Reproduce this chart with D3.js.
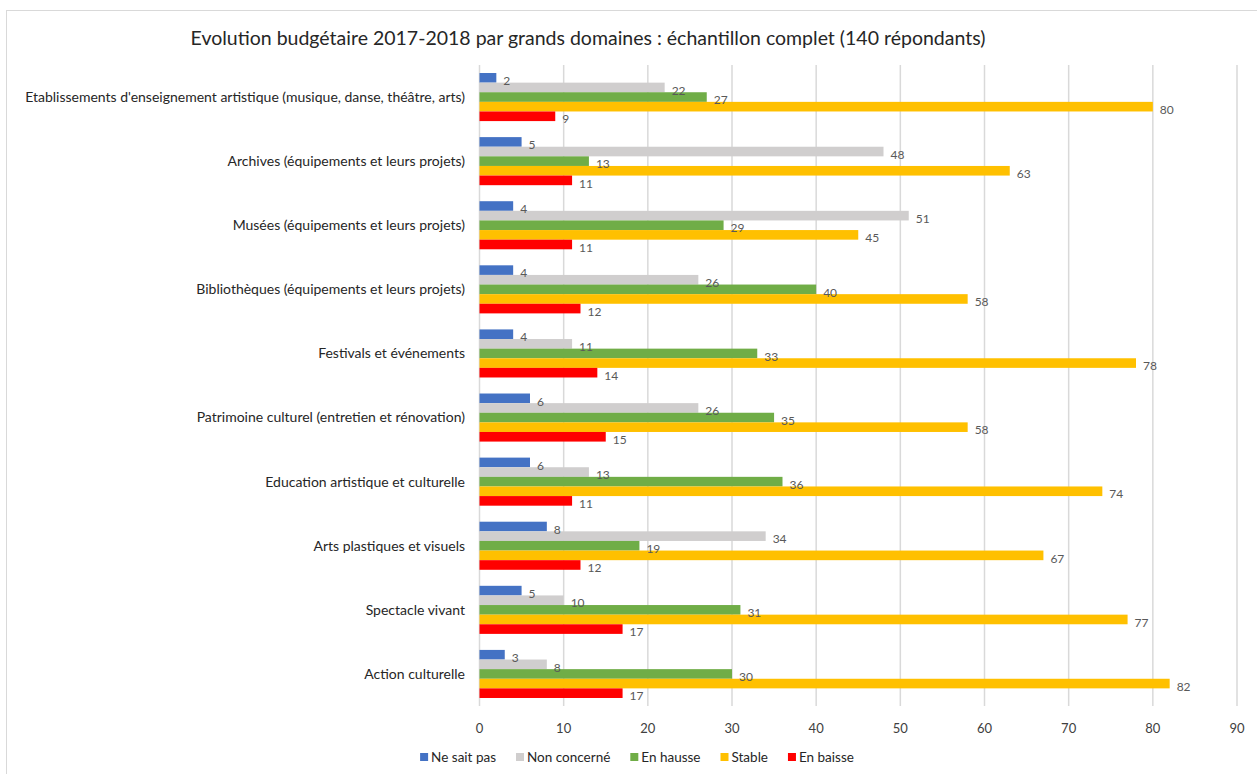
<!DOCTYPE html>
<html>
<head>
<meta charset="utf-8">
<script src="https://cdn.jsdelivr.net/npm/d3@7"></script>
<style>
  body { margin: 0; background: #fff; }
  svg { display: block; font-family: Lato, "Open Sans", sans-serif; }
</style>
</head>
<body>
<script>
const categories = [
  "Etablissements d'enseignement artistique (musique, danse, théâtre, arts)",
  "Archives (équipements et leurs projets)",
  "Musées (équipements et leurs projets)",
  "Bibliothèques (équipements et leurs projets)",
  "Festivals et événements",
  "Patrimoine culturel (entretien et rénovation)",
  "Education artistique et culturelle",
  "Arts plastiques et visuels",
  "Spectacle vivant",
  "Action culturelle"
];
const seriesNames = ["Ne sait pas", "Non concerné", "En hausse", "Stable", "En baisse"];
const seriesColors = ["#4472C4", "#D0CECE", "#70AD47", "#FFC000", "#FF0000"];
const neSaitPas   = [2, 5, 4, 4, 4, 6, 6, 8, 5, 3];
const nonConcerne = [22, 48, 51, 26, 11, 26, 13, 34, 10, 8];
const enHausse    = [27, 13, 29, 40, 33, 35, 36, 19, 31, 30];
const stable      = [80, 63, 45, 58, 78, 58, 74, 67, 77, 82];
const enBaisse    = [9, 11, 11, 12, 14, 15, 11, 12, 17, 17];
const xTicks = [0, 10, 20, 30, 40, 50, 60, 70, 80, 90];
const title = "Evolution budgétaire 2017-2018 par grands domaines : échantillon complet (140 répondants)";

const seriesValues = [neSaitPas, nonConcerne, enHausse, stable, enBaisse];
const data = categories.map((c, i) => ({
  name: c,
  values: seriesNames.map((s, j) => ({ key: s, value: seriesValues[j][i], color: seriesColors[j] }))
}));

const width = 1257, height = 774;

const svg = d3.select("body").append("svg")
  .attr("width", width)
  .attr("height", height);

// outer frame
svg.append("rect")
  .attr("x", 6.5).attr("y", 10.5)
  .attr("width", width + 10).attr("height", height + 10)
  .attr("fill", "none")
  .attr("stroke", "#D9D9D9");

svg.append("text")
  .attr("x", 588).attr("y", 45)
  .attr("text-anchor", "middle")
  .attr("font-size", 19.5)
  .attr("fill", "#262626")
  .text(title);

const x = d3.scaleLinear().domain([0, 90]).range([479.5, 1237]);
const y = d3.scaleBand().domain(categories).range([65, 706]).paddingInner(0.25).paddingOuter(0.125);
const ySub = d3.scaleBand().domain(seriesNames).range([0, y.bandwidth()]);

// gridlines
svg.append("g")
  .selectAll("line")
  .data(xTicks)
  .join("line")
  .attr("x1", d => x(d)).attr("x2", d => x(d))
  .attr("y1", 65).attr("y2", 706)
  .attr("stroke", "#D9D9D9")
  .attr("stroke-width", 1.5);

// tick labels
svg.append("g")
  .selectAll("text")
  .data(xTicks)
  .join("text")
  .attr("x", d => x(d))
  .attr("y", 733)
  .attr("text-anchor", "middle")
  .attr("font-size", 13)
  .attr("fill", "#404040")
  .text(d => d);

// category labels
svg.append("g")
  .selectAll("text")
  .data(categories)
  .join("text")
  .attr("x", 465)
  .attr("y", d => y(d) + y.bandwidth() / 2)
  .attr("dy", "0.35em")
  .attr("font-size", 14)
  .attr("text-anchor", "end")
  .attr("fill", "#262626")
  .text(d => d);

const groups = svg.append("g")
  .selectAll("g")
  .data(data)
  .join("g")
  .attr("transform", d => `translate(0,${y(d.name)})`);

groups.selectAll("rect")
  .data(d => d.values)
  .join("rect")
  .attr("x", x(0))
  .attr("y", d => ySub(d.key))
  .attr("width", d => x(d.value) - x(0))
  .attr("height", ySub.bandwidth())
  .attr("fill", d => d.color);

groups.selectAll("text")
  .data(d => d.values)
  .join("text")
  .attr("x", d => x(d.value) + 7)
  .attr("y", d => ySub(d.key) + ySub.bandwidth() / 2 + 3)
  .attr("dy", "0.35em")
  .attr("font-size", 12)
  .attr("fill", "#595959")
  .text(d => d.value);

// legend
const legend = svg.append("g").attr("transform", "translate(0,757)");
const items = legend.selectAll("g")
  .data(seriesNames)
  .join("g");
items.append("rect")
  .attr("x", 0).attr("y", -4)
  .attr("width", 8).attr("height", 8)
  .attr("fill", (d, i) => seriesColors[i]);
items.append("text")
  .attr("x", 11)
  .attr("dy", "0.35em")
  .attr("font-size", 13.5)
  .attr("fill", "#262626")
  .text(d => d);

let pos = 0;
const offsets = [];
items.each(function () {
  offsets.push(pos);
  const w = d3.select(this).select("text").node().getComputedTextLength();
  pos += 11 + w + 20;
});
const total = pos - 20;
const start = 637 - total / 2;
items.attr("transform", (d, i) => `translate(${start + offsets[i]},0)`);
</script>
</body>
</html>
